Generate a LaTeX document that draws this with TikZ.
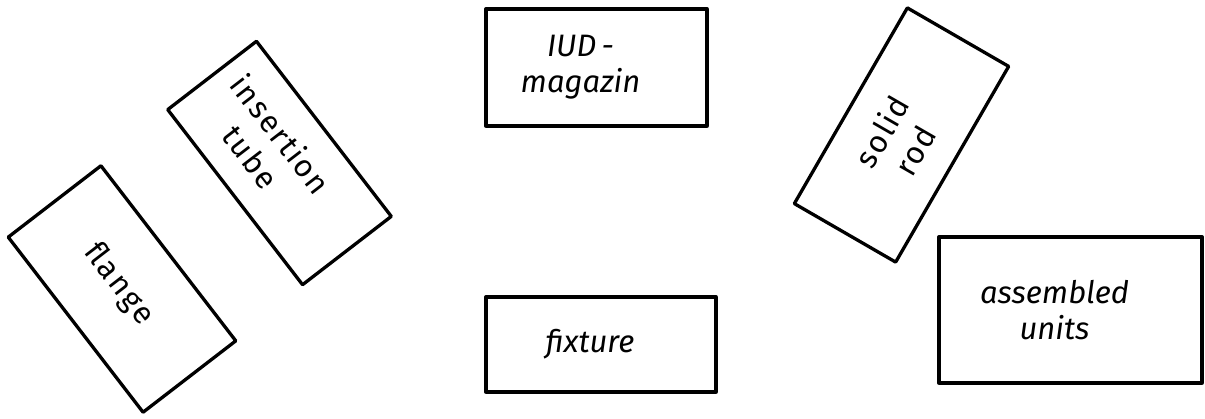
\documentclass[tikz,border=0pt]{standalone}
\usepackage{fontspec}
\setmainfont{Fira Sans}
\usetikzlibrary{calc}
\tikzset{
  box/.style={draw=black, line width=3.3pt, line join=round, inner sep=0pt, outer sep=0pt},
  txt/.style={inner sep=0pt, align=center, font=\fontsize{31}{38}\selectfont\addfontfeatures{LetterSpace=6}},
  itxt/.style={inner sep=0pt, align=center, font=\fontsize{31}{36}\selectfont\itshape},
}
\begin{document}
\begin{tikzpicture}[x=1pt,y=-1pt]
\useasboundingbox (0,0) rectangle (1205,419);
% boxes
\node[box, minimum width=221pt, minimum height=117pt, rotate=-52.4] (flange) at (122,289) {};
\node[box, minimum width=221pt, minimum height=112pt, rotate=-52.4] (tube) at (279.5,163) {};
\node[box, minimum width=221pt, minimum height=117pt] (iud) at (596.5,67.5) {};
\node[box, minimum width=230pt, minimum height=95pt] (fixture) at (601,344.5) {};
\node[box, minimum width=226pt, minimum height=117pt, rotate=60] (rod) at (901.5,135) {};
\node[box, minimum width=263pt, minimum height=146pt] (units) at (1070.5,310) {};
% labels
\node[txt, rotate=-52.4] (flangeT) at ($(flange.center)!0.05!(flange.west)$) {flange};
\node[txt, rotate=-52.4] (tubeT) at ($(tube.center)!0.2!(tube.west)$) {insertion\\tube};
\node[itxt] (iudT) at ([xshift=-16pt]iud.center) {IUD\,-\\magazin};
\node[itxt] (fixtureT) at ([xshift=-11pt]fixture.center) {fixture};
\node[txt, rotate=60] (rodT) at ($(rod.center)!0.06!(rod.west)$) {solid\\rod};
\node[itxt] (unitsT) at ([xshift=-16pt]units.center) {assembled\\units};
\end{tikzpicture}
\end{document}
